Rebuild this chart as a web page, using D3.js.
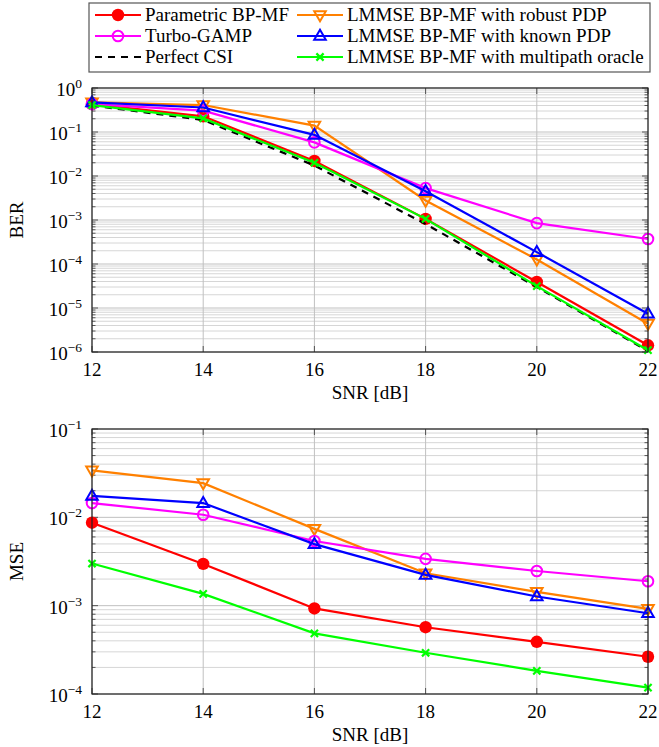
<!DOCTYPE html>
<html><head><meta charset="utf-8">
<script src="https://cdn.jsdelivr.net/npm/d3@7"></script>
<style>body{margin:0;background:#fff}svg{display:block}text{font-family:"Liberation Serif","Times New Roman",serif;fill:#000}</style>
</head><body><svg id="c" width="659" height="747"></svg>
<script>
const snr = [12, 14, 16, 18, 20, 22];
const xTicks = [12, 14, 16, 18, 20, 22];
const berTicks = [0, -1, -2, -3, -4, -5, -6];
const mseTicks = [-1, -2, -3, -4];

const berParametric = [0.43, 0.227, 0.022, 0.00106, 3.9e-5, 1.42e-6];
const berTurbo = [0.43, 0.305, 0.058, 0.0053, 0.00085, 0.00037];
const berPerfect = [0.40, 0.188, 0.0173, 0.00081, 3.0e-5, 1.05e-6];
const berRobust = [0.47, 0.41, 0.14, 0.00277, 0.000127, 4.4e-6];
const berKnown = [0.47, 0.36, 0.086, 0.0045, 0.000186, 7.4e-6];
const berOracle = [0.41, 0.204, 0.020, 0.00106, 3.15e-5, 1.1e-6];

const mseParametric = [0.0087, 0.00297, 0.00093, 0.00057, 0.00039, 0.000264];
const mseTurbo = [0.0145, 0.0107, 0.0054, 0.00339, 0.00247, 0.00189];
const mseRobust = [0.034, 0.0244, 0.0074, 0.00233, 0.00143, 0.00092];
const mseKnown = [0.0175, 0.0145, 0.00497, 0.00223, 0.00127, 0.00082];
const mseOracle = [0.0030, 0.00136, 0.000486, 0.000293, 0.000183, 0.000118];

const names = {
  par: "Parametric BP-MF", turbo: "Turbo-GAMP", perf: "Perfect CSI",
  rob: "LMMSE BP-MF with robust PDP", known: "LMMSE BP-MF with known PDP", orac: "LMMSE BP-MF with multipath oracle"
};
const style = {
  par: {color: "#ff0000", marker: "dot"},
  rob: {color: "#ff8000", marker: "tridown"},
  turbo: {color: "#ff00ff", marker: "circle"},
  known: {color: "#0000ff", marker: "triup"},
  perf: {color: "#000000", marker: null, dash: "7,6"},
  orac: {color: "#00ff00", marker: "x"}
};

const svg = d3.select("#c");
const FS = 19;

function drawMarker(g, type, color, x, y) {
  if (type === "dot") {
    g.append("circle").attr("cx", x).attr("cy", y).attr("r", 6.2).attr("fill", color);
  } else if (type === "circle") {
    g.append("circle").attr("cx", x).attr("cy", y).attr("r", 5.3).attr("fill", "none").attr("stroke", color).attr("stroke-width", 2);
  } else if (type === "triup") {
    const s = d3.symbol().type(d3.symbolTriangle).size(58);
    g.append("path").attr("d", s()).attr("transform", `translate(${x},${y+0.5})`).attr("fill", "none").attr("stroke", color).attr("stroke-width", 2);
  } else if (type === "tridown") {
    const s = d3.symbol().type(d3.symbolTriangle).size(58);
    g.append("path").attr("d", s()).attr("transform", `translate(${x},${y-0.5}) rotate(180)`).attr("fill", "none").attr("stroke", color).attr("stroke-width", 2);
  } else if (type === "x") {
    const d = 3.6;
    g.append("path").attr("d", `M${x-d},${y-d}L${x+d},${y+d}M${x-d},${y+d}L${x+d},${y-d}`).attr("stroke", color).attr("stroke-width", 2.2);
  }
}

function panel(top, bottom, expTicks, series, ylabel) {
  const left = 92, right = 648;
  const x = d3.scaleLinear().domain([12, 22]).range([left, right]);
  const lo = Math.pow(10, d3.min(expTicks)), hi = Math.pow(10, d3.max(expTicks));
  const y = d3.scaleLog().domain([lo, hi]).range([bottom, top]);
  const g = svg.append("g");
  const minors = [];
  for (let e = d3.min(expTicks); e < d3.max(expTicks); e++)
    for (let k = 2; k <= 9; k++) minors.push(k * Math.pow(10, e));
  g.append("g").selectAll("line").data(minors).join("line")
    .attr("x1", left).attr("x2", right).attr("y1", d => y(d)).attr("y2", d => y(d))
    .attr("stroke", "#d6d6d6").attr("stroke-width", 1);
  const majors = expTicks.map(e => Math.pow(10, e));
  g.append("g").selectAll("line").data(majors).join("line")
    .attr("x1", left).attr("x2", right).attr("y1", d => y(d)).attr("y2", d => y(d))
    .attr("stroke", "#c0c0c0").attr("stroke-width", 1);
  g.append("g").selectAll("line").data(xTicks).join("line")
    .attr("x1", d => x(d)).attr("x2", d => x(d)).attr("y1", top).attr("y2", bottom)
    .attr("stroke", "#c0c0c0").attr("stroke-width", 1);
  const tk = g.append("g").attr("stroke", "#333").attr("stroke-width", 0.8);
  minors.forEach(v => {
    tk.append("line").attr("x1", left).attr("x2", left + 3.5).attr("y1", y(v)).attr("y2", y(v));
    tk.append("line").attr("x1", right).attr("x2", right - 3.5).attr("y1", y(v)).attr("y2", y(v));
  });
  majors.forEach(v => {
    tk.append("line").attr("x1", left).attr("x2", left + 6).attr("y1", y(v)).attr("y2", y(v));
    tk.append("line").attr("x1", right).attr("x2", right - 6).attr("y1", y(v)).attr("y2", y(v));
  });
  xTicks.forEach(v => {
    tk.append("line").attr("x1", x(v)).attr("x2", x(v)).attr("y1", bottom).attr("y2", bottom - 6);
    tk.append("line").attr("x1", x(v)).attr("x2", x(v)).attr("y1", top).attr("y2", top + 6);
  });
  const line = d3.line().x((d, i) => x(snr[i])).y(d => y(d));
  series.forEach(([key, vals]) => {
    const st = style[key];
    g.append("path").datum(vals).attr("d", line).attr("fill", "none")
      .attr("stroke", st.color).attr("stroke-width", 2.2).attr("stroke-dasharray", st.dash || null);
    if (st.marker) vals.forEach((v, i) => drawMarker(g, st.marker, st.color, x(snr[i]), y(v)));
  });
  g.append("rect").attr("x", left).attr("y", top).attr("width", right - left).attr("height", bottom - top)
    .attr("fill", "none").attr("stroke", "#222").attr("stroke-width", 1.2);
  g.append("g").selectAll("text").data(xTicks).join("text")
    .attr("x", d => x(d)).attr("y", bottom + 24).attr("text-anchor", "middle")
    .attr("font-size", FS).text(d => d);
  expTicks.forEach(e => {
    const yy = y(Math.pow(10, e));
    const t = g.append("text").attr("x", 82).attr("y", yy + 8).attr("text-anchor", "end").attr("font-size", FS);
    t.append("tspan").text("10");
    t.append("tspan").attr("dy", -8).attr("font-size", 13.5).text(e === 0 ? "0" : "\u2212" + Math.abs(e));
  });
  g.append("text").attr("x", (left + right) / 2).attr("y", bottom + 47).attr("text-anchor", "middle")
    .attr("font-size", FS).text("SNR [dB]");
  g.append("text").attr("transform", `translate(23,${(top + bottom) / 2}) rotate(-90)`)
    .attr("text-anchor", "middle").attr("font-size", FS).text(ylabel);
}

panel(88, 352, berTicks, [
  ["par", berParametric], ["rob", berRobust], ["turbo", berTurbo], ["known", berKnown], ["perf", berPerfect], ["orac", berOracle]
], "BER");
panel(429, 694, mseTicks, [
  ["par", mseParametric], ["rob", mseRobust], ["turbo", mseTurbo], ["known", mseKnown], ["orac", mseOracle]
], "MSE");

const leg = svg.append("g");
leg.append("rect").attr("x", 89).attr("y", 3).attr("width", 561).attr("height", 69)
  .attr("fill", "#fff").attr("stroke", "#555").attr("stroke-width", 1.2);
const legendRows = [["par", "rob"], ["turbo", "known"], ["perf", "orac"]];
const rowY = [15, 36, 57];
const colX = [95, 297];
legendRows.forEach((row, r) => row.forEach((key, c) => {
  const st = style[key];
  const x0 = colX[c], x1 = x0 + 46, yy = rowY[r];
  leg.append("line").attr("x1", x0).attr("x2", x1).attr("y1", yy).attr("y2", yy)
    .attr("stroke", st.color).attr("stroke-width", 2.2).attr("stroke-dasharray", st.dash || null);
  if (st.marker) drawMarker(leg, st.marker, st.color, (x0 + x1) / 2, yy);
  leg.append("text").attr("x", x1 + 4).attr("y", yy + 6).attr("font-size", FS).text(names[key]);
}));
</script></body></html>
